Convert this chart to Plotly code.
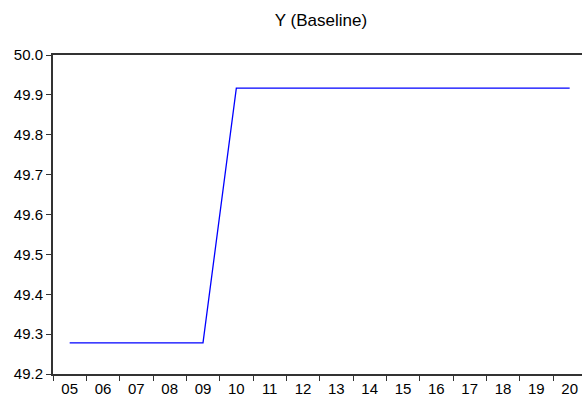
import plotly.graph_objects as go

years = ["05", "06", "07", "08", "09", "10", "11", "12", "13", "14", "15", "16", "17", "18", "19", "20"]
y_baseline = [49.278, 49.278, 49.278, 49.278, 49.278, 49.917, 49.917, 49.917, 49.917, 49.917,
              49.917, 49.917, 49.917, 49.917, 49.917, 49.917]
y_ticks = [49.2, 49.3, 49.4, 49.5, 49.6, 49.7, 49.8, 49.9, 50.0]

fig = go.Figure()
fig.add_trace(go.Scatter(x=years, y=y_baseline, mode="lines",
                         line=dict(color="#0000FF", width=1.3), showlegend=False))

font = "Arial, Liberation Sans, sans-serif"
W, H = 582, 403
fig.update_layout(
    width=W, height=H,
    margin=dict(l=53, r=0, t=55, b=29, autoexpand=False),
    paper_bgcolor="white", plot_bgcolor="white",
    font=dict(family=font, size=15, color="#000000"),
    title=dict(text="Y (Baseline)", x=321 / W, xanchor="center", y=1 - 20 / H, yanchor="middle",
               font=dict(family=font, size=17, color="#000000")),
    xaxis=dict(type="category", range=[-0.5, 15.37], showgrid=False, zeroline=False,
               showline=True, linecolor="#333333", linewidth=2, mirror=True,
               ticks="outside", tickson="boundaries", ticklen=5, tickcolor="#333333", tickwidth=1.3,
               tickfont=dict(size=15)),
    yaxis=dict(range=[49.2, 50.0], tickvals=y_ticks, ticktext=[f"{v:.1f}" for v in y_ticks],
               showgrid=False, zeroline=False, showline=True, linecolor="#333333", linewidth=2,
               ticks="outside", ticklen=5, tickcolor="#333333", tickwidth=1.3, tickfont=dict(size=15)),
)
fig.write_html("out.html", config={"displayModeBar": False},
               post_script="document.body.style.margin='0';document.body.style.overflow='hidden';")
